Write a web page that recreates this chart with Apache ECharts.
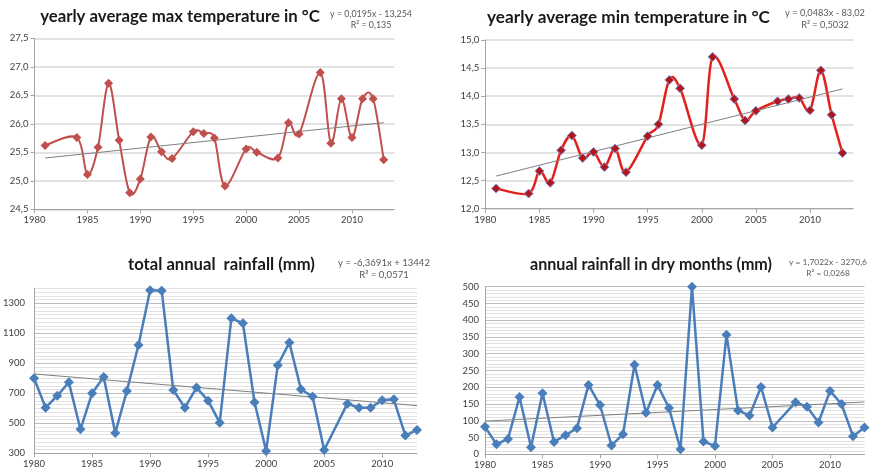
<!DOCTYPE html>
<html><head><meta charset="utf-8">
<script src="https://cdn.jsdelivr.net/npm/echarts@6/dist/echarts.min.js"></script>
<style>html,body{margin:0;padding:0;background:#fff}#c{width:877px;height:475px}</style>
</head><body><div id="c"></div>
<script>
// ---- data ----
const tempYears = [1981,1984,1985,1986,1987,1988,1989,1990,1991,1992,1993,1995,1996,1997,1998,2000,2001,2003,2004,2005,2007,2008,2009,2010,2011,2012,2013];
const maxTemp   = [25.62,25.76,25.11,25.59,26.71,25.71,24.79,25.03,25.77,25.51,25.39,25.86,25.83,25.75,24.91,25.56,25.50,25.40,26.02,25.82,26.90,25.66,26.44,25.76,26.44,26.44,25.37];
const minTemp   = [12.36,12.27,12.67,12.46,13.04,13.30,12.90,13.01,12.74,13.07,12.65,13.29,13.50,14.29,14.14,13.13,14.70,13.95,13.57,13.74,13.91,13.95,13.97,13.75,14.46,13.67,12.99];
const rainYears = [1980,1981,1982,1983,1984,1985,1986,1987,1988,1989,1990,1991,1992,1993,1994,1995,1996,1997,1998,1999,2000,2001,2002,2003,2004,2005,2007,2008,2009,2010,2011,2012,2013];
const totalRain = [800,604,684,773,460,700,809,436,716,1022,1387,1384,722,604,738,651,504,1200,1167,640,316,887,1038,727,678,322,631,604,604,653,660,418,456];
const dryRain   = [82,30,46,171,21,182,37,57,78,207,147,26,60,267,124,207,138,15,500,38,25,357,131,116,201,80,155,142,95,189,150,54,80];
const tempTrendYears = [1981,2013];
const maxTrend = [25.40,26.02];
const minTrend = [12.58,14.13];
const rainTrendYears = [1980,2013];
const totalTrend = [829,618];
const dryTrend = [99,156];
const titles = ['yearly average max temperature in °C','yearly average min temperature in °C','total annual  rainfall (mm)','annual rainfall in dry months (mm)'];
const eqLine1 = ['y = 0,0195x - 13,254','y = 0,0483x - 83,02','y = -6,3691x + 13442','y = 1,7022x - 3270,6'];
const eqLine2 = ['R² = 0,135','R² = 0,5032','R² = 0,0571','R² = 0,0268'];

// ---- helpers ----
const pairs = (xs, ys) => xs.map((x, i) => [x, ys[i]]);
const mctx = document.createElement('canvas').getContext('2d');
function fitSize(text, weight, family, target) {
  mctx.font = weight + ' 100px ' + family;
  return 100 * target / mctx.measureText(text).width;
}
const FONT = 'Lato';
const LBL = '#404040';
const AX = '#a6a6a6';

// layout
const grids = [
  {left:34.5, top:38.3, width:359.8, height:171},
  {left:485.3, top:40, width:368, height:168.7},
  {left:34, top:288.3, width:383, height:165},
  {left:485, top:286.7, width:379.5, height:167.6}
];
const titlePos = [[180,17,280],[628.5,17,283],[221.5,265,187],[651,265,242]];
const eqPos = [[371,14,25,82],[825,13,25,80],[384,263,275,92],[828,262,273,78]];

const graphic = [];
titles.forEach((t, i) => {
  const [x, y, w] = titlePos[i];
  const fs = fitSize(t, 'bold', FONT, w);
  graphic.push({type:'text', x, y, style:{text:t, font:'bold ' + fs.toFixed(2) + 'px ' + FONT, fill:'#1a1a1a', textAlign:'center', textVerticalAlign:'middle'}});
});
eqLine1.forEach((t, i) => {
  const [x, y1, y2, w] = eqPos[i];
  const fs = fitSize(t, 'normal', FONT, w);
  graphic.push({type:'text', x, y:y1, style:{text:t, font:fs.toFixed(2) + 'px ' + FONT, fill:'#595959', textAlign:'center', textVerticalAlign:'middle'}});
  graphic.push({type:'text', x, y:y2, style:{text:eqLine2[i], font:fs.toFixed(2) + 'px ' + FONT, fill:'#595959', textAlign:'center', textVerticalAlign:'middle'}});
});

function xAxis(i, max) {
  return {type:'value', gridIndex:i, min:1980, max:max, interval:5,
    axisLine:{show:true, lineStyle:{color:AX, width:1}},
    axisTick:{show:true, length:4, lineStyle:{color:AX}},
    splitLine:{show:false},
    axisLabel:{show:true, showMaxLabel:false, color:LBL, fontFamily:FONT, fontSize:9.5, margin:6, formatter:v => String(v)}};
}
const comma1 = v => v.toFixed(1).replace('.', ',');
function yTemp(i, min, max) {
  return {type:'value', gridIndex:i, min, max, interval:0.5,
    axisLine:{show:true, lineStyle:{color:AX}},
    axisTick:{show:true, length:4, lineStyle:{color:AX}},
    splitLine:{show:true, lineStyle:{color:'#d9d9d9', width:1.5}},
    axisLabel:{color:LBL, fontFamily:FONT, fontSize:9.5, margin:6, formatter:comma1}};
}

// Excel-like smoothed line: Catmull-Rom segments computed in pixel space via the axes
function smoothSeries(axisIdx, xs, ys, color, width) {
  const data = pairs(xs, ys);
  return {type:'custom', coordinateSystem:'cartesian2d', xAxisIndex:axisIdx, yAxisIndex:axisIdx,
    data: data, z:2, silent:true,
    renderItem: function (params, api) {
      const i = params.dataIndex;
      const n = data.length;
      if (i >= n - 1) return null;
      const P = k => api.coord(data[Math.max(0, Math.min(n - 1, k))]);
      const p0 = P(i - 1), p1 = P(i), p2 = P(i + 1), p3 = P(i + 2);
      const t = 1 / 6;
      return {type:'bezierCurve',
        shape:{x1:p1[0], y1:p1[1], x2:p2[0], y2:p2[1],
          cpx1:p1[0] + (p2[0] - p0[0]) * t, cpy1:p1[1] + (p2[1] - p0[1]) * t,
          cpx2:p2[0] - (p3[0] - p1[0]) * t, cpy2:p2[1] - (p3[1] - p1[1]) * t},
        style:{stroke:color, lineWidth:width, fill:null, lineCap:'round'}};
    }};
}

const option = {
  animation:false,
  backgroundColor:'#ffffff',
  grid: grids,
  xAxis: [xAxis(0, 2014), xAxis(1, 2014), xAxis(2, 2013), xAxis(3, 2013)],
  yAxis: [
    yTemp(0, 24.5, 27.5),
    yTemp(1, 12, 15),
    {type:'value', gridIndex:2, min:300, max:1400, interval:100,
      axisLine:{show:true, lineStyle:{color:AX}},
      axisTick:{show:false},
      splitLine:{show:true, lineStyle:{color:['#bdbdbd','#e2e2e2'], width:1}},
      minorTick:{show:false, splitNumber:4},
      minorSplitLine:{show:true, lineStyle:{color:'#e2e2e2', width:1}},
      axisLabel:{color:LBL, fontFamily:FONT, fontSize:9.5, margin:9, formatter:v => ((v - 300) % 200 === 0 ? String(v) : '')}},
    {type:'value', gridIndex:3, min:0, max:500, interval:50,
      axisLine:{show:true, lineStyle:{color:AX}},
      axisTick:{show:false},
      splitLine:{show:true, lineStyle:{color:'#bdbdbd', width:1}},
      minorTick:{show:false, splitNumber:5},
      minorSplitLine:{show:true, lineStyle:{color:'#e2e2e2', width:1}},
      axisLabel:{color:LBL, fontFamily:FONT, fontSize:9.5, margin:6}}
  ],
  series: [
    smoothSeries(0, tempYears, maxTemp, '#c0504d', 2),
    {type:'scatter', xAxisIndex:0, yAxisIndex:0, data:pairs(tempYears, maxTemp), z:4,
      symbol:'diamond', symbolSize:9, itemStyle:{color:'#c0504d', opacity:1}},
    {type:'line', xAxisIndex:0, yAxisIndex:0, data:pairs(tempTrendYears, maxTrend), symbol:'none', z:3,
      lineStyle:{color:'#808080', width:1}},
    smoothSeries(1, tempYears, minTemp, '#e3201b', 2.5),
    {type:'scatter', xAxisIndex:1, yAxisIndex:1, data:pairs(tempYears, minTemp), z:4,
      symbol:'diamond', symbolSize:9, itemStyle:{color:'#b0161a', borderColor:'#7d96d6', borderWidth:1, opacity:1}},
    {type:'line', xAxisIndex:1, yAxisIndex:1, data:pairs(tempTrendYears, minTrend), symbol:'none', z:3,
      lineStyle:{color:'#808080', width:1}},
    {type:'line', xAxisIndex:2, yAxisIndex:2, data:pairs(rainYears, totalRain),
      symbol:'diamond', symbolSize:10, lineStyle:{color:'#4a7ebb', width:2.5}, itemStyle:{color:'#4a7ebb'}},
    {type:'line', xAxisIndex:2, yAxisIndex:2, data:pairs(rainTrendYears, totalTrend), symbol:'none',
      lineStyle:{color:'#808080', width:1}},
    {type:'line', xAxisIndex:3, yAxisIndex:3, data:pairs(rainYears, dryRain),
      symbol:'diamond', symbolSize:10, lineStyle:{color:'#4a7ebb', width:2.5}, itemStyle:{color:'#4a7ebb'}},
    {type:'line', xAxisIndex:3, yAxisIndex:3, data:pairs(rainTrendYears, dryTrend), symbol:'none',
      lineStyle:{color:'#808080', width:1}}
  ],
  graphic: graphic
};
const chart = echarts.init(document.getElementById('c'), null, {renderer:'canvas'});
chart.setOption(option);
</script>
</body></html>
